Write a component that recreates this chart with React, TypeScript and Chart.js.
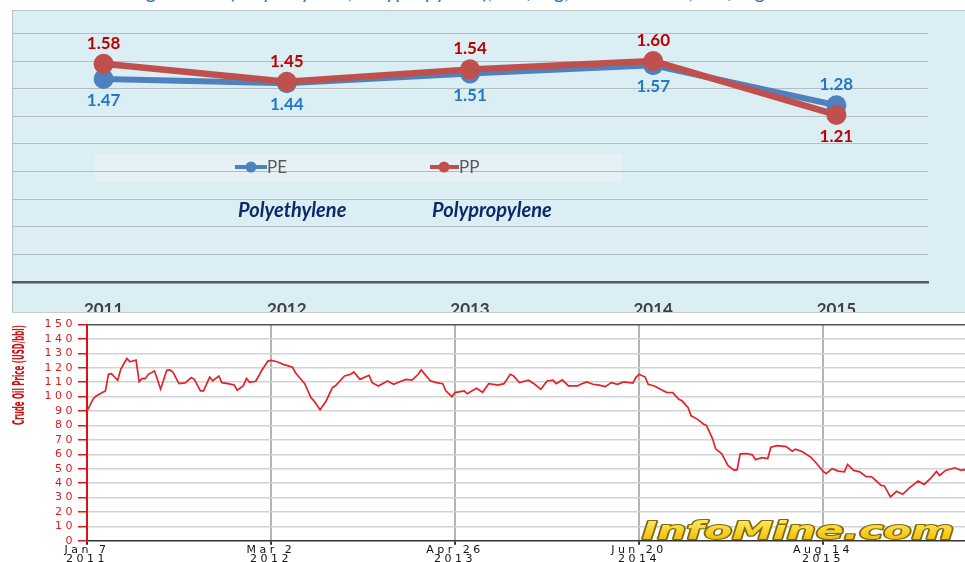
import React, { useEffect, useRef } from "react";
import { Chart, registerables } from "chart.js";

Chart.register(...registerables);

// ---------- Top chart: PE / PP prices ----------
const years = ["2011", "2012", "2013", "2014", "2015"];
const pePrices = [1.47, 1.44, 1.51, 1.57, 1.28];
const ppPrices = [1.58, 1.45, 1.54, 1.6, 1.21];
const resinGridValues = [0, 0.2, 0.4, 0.6, 0.8, 1.0, 1.2, 1.4, 1.6, 1.8];
const seriesNames = ["PE", "PP"];
const resinCaptions = ["Polyethylene", "Polypropylene"];
const topTitle = "Average Prices (Polyethylene, Polypropylene), US$/kg, 2011 – 2015, US$/kg";

// ---------- Bottom chart: crude oil (weekly, weeks since Jan 7 2011) ----------
const crudeWeeks = [
  0, 2, 3, 5, 6, 7, 8, 10, 11, 13,
  14, 16, 17, 18, 19, 20, 22, 23, 24, 25,
  26, 27, 28, 30, 32, 34, 35, 37, 38, 40,
  41, 43, 44, 46, 48, 49, 51, 52, 53, 55,
  56, 57, 59, 60, 62, 64, 67, 68, 69, 71,
  73, 74, 76, 78, 80, 81, 84, 86, 87, 89,
  92, 93, 95, 98, 100, 102, 104, 106, 108, 109,
  110, 112, 114, 116, 117, 119, 120, 123, 124, 127,
  129, 131, 134, 136, 138, 139, 141, 144, 146, 148,
  150, 152, 153, 155, 157, 160, 161, 163, 165, 167,
  169, 171, 173, 175, 178, 179, 180, 182, 183, 185,
  187, 189, 191, 193, 194, 196, 197, 199, 201, 202,
  204, 205, 207, 209, 211, 212, 213, 215, 217, 218,
  220, 222, 223, 225, 228, 230, 231, 233, 236, 238,
  240, 241, 243, 245, 247, 248, 250, 252, 254, 256,
  259, 260, 262, 264, 266, 268, 271, 273, 275, 277,
  278, 280, 283, 285, 286, 289,
];
const crudePrices = [
  90, 98.4, 100.5, 102.8, 104, 115.5, 116, 111.4, 119, 126.5,
  124.2, 125.4, 110.4, 112.7, 112.5, 115.5, 117.8, 111.7, 105.2, 111.7,
  118.3, 118.5, 117, 109, 109.5, 113.2, 112, 104, 104, 113.6,
  111, 114.3, 109.7, 109, 108.1, 104.5, 107.6, 112.7, 110, 110.7,
  114.3, 118.3, 124.7, 125.1, 124.2, 122.4, 120.5, 116.6, 114, 109,
  99.4, 97.1, 90.9, 97, 106.3, 107.5, 114.3, 115.5, 117.1, 112,
  114.8, 109.7, 107.4, 110.9, 108.6, 110.3, 112, 111.4, 115.5, 118.5,
  116, 110.9, 109.7, 109, 104, 100, 102.8, 104, 102, 105.8,
  103, 109, 108, 109, 115.5, 114.5, 109.7, 111.4, 108.6, 105.1,
  110.9, 111.4, 109, 111.6, 107.4, 107.4, 108.6, 110.2, 108.6, 108,
  106.9, 109.7, 108.6, 110.2, 109.4, 113.2, 115.5, 113.6, 108.6, 107.4,
  105.1, 103, 102.8, 98.2, 97.1, 92.5, 86.7, 84.4, 81, 80,
  70.7, 63.8, 60.3, 52.2, 48.8, 49.3, 60.3, 60.5, 59.6, 56.2,
  57.6, 57, 64.9, 66, 65.3, 62.1, 63.6, 62.1, 58, 53.4,
  48.3, 46.5, 50, 48.3, 47.8, 52.9, 48.8, 47.8, 44.6, 44.2,
  38.4, 38, 30.4, 34.3, 32.2, 36.3, 41.4, 39.1, 43, 48.1,
  45.3, 48.8, 50.6, 48.8, 49.3, 49,
];
const crudeTickWeeks = [0, 60, 120, 180, 240];
const crudeTickDates = ["Jan 7", "Mar 2", "Apr 26", "Jun 20", "Aug 14"];
const crudeTickYears = ["2011", "2012", "2013", "2014", "2015"];
const crudeAxisTitle = "Crude Oil Price (USD/bbl)";
const watermarkText = "InfoMine.com";

const PE_COLOR = "#4f81bd";
const PP_COLOR = "#c0504d";
const PE_LABEL = "#1f78c8";
const PP_LABEL = "#c00000";

const resinOverlay = {
  id: "resinOverlay",
  beforeDraw(chart: any) {
    const ctx = chart.ctx;
    ctx.save();
    ctx.fillStyle = "#e5f1f5";
    ctx.fillRect(83, 144, 527, 27);
    ctx.restore();
  },
  afterDatasetsDraw(chart: any) {
    const ctx = chart.ctx;
    const m0 = chart.getDatasetMeta(0).data;
    const m1 = chart.getDatasetMeta(1).data;
    ctx.save();
    ctx.font = "bold 17px Lato, 'Open Sans', sans-serif";
    ctx.textAlign = "center";
    ctx.textBaseline = "alphabetic";
    years.forEach((_, i) => {
      const pe = m0[i];
      const pp = m1[i];
      const peHigher = pePrices[i] > ppPrices[i];
      const topY = Math.min(pe.y, pp.y) - 15;
      const botY = Math.max(pe.y, pp.y) + 27;
      ctx.fillStyle = PP_LABEL;
      ctx.fillText(ppPrices[i].toFixed(2), pp.x, peHigher ? botY : topY);
      ctx.fillStyle = PE_LABEL;
      ctx.fillText(pePrices[i].toFixed(2), pe.x, peHigher ? topY : botY);
    });

    // legend
    const items = [
      { name: seriesNames[0], color: PE_COLOR, x0: 223, x1: 255, cx: 239 },
      { name: seriesNames[1], color: PP_COLOR, x0: 418, x1: 447, cx: 432 },
    ];
    const ly = 157;
    items.forEach((it) => {
      ctx.strokeStyle = it.color;
      ctx.lineWidth = 4;
      ctx.beginPath();
      ctx.moveTo(it.x0, ly);
      ctx.lineTo(it.x1, ly);
      ctx.stroke();
      ctx.fillStyle = it.color;
      ctx.beginPath();
      ctx.arc(it.cx, ly, 5.5, 0, Math.PI * 2);
      ctx.fill();
      ctx.fillStyle = "#595959";
      ctx.font = "17px Lato, 'Open Sans', sans-serif";
      ctx.textAlign = "left";
      ctx.textBaseline = "middle";
      ctx.fillText(it.name, it.x1, ly + 1);
    });

    // captions
    ctx.fillStyle = "#0c2a6a";
    ctx.font = "italic bold 20px Lato, 'Open Sans', sans-serif";
    ctx.textAlign = "left";
    ctx.textBaseline = "alphabetic";
    ctx.fillText(resinCaptions[0], 226, 206.5);
    ctx.fillText(resinCaptions[1], 420, 206.5);
    ctx.restore();
  },
};

const crudeOverlay = {
  id: "crudeOverlay",
  beforeDraw(chart: any) {
    chart.ctx.letterSpacing = "3.5px";
  },
  afterDraw(chart: any) {
    const ctx = chart.ctx;
    ctx.letterSpacing = "0px";
    // y-axis title
    ctx.save();
    ctx.translate(20, 59);
    ctx.rotate(-Math.PI / 2);
    ctx.font = "bold 16px 'Liberation Sans Narrow', 'DejaVu Sans Condensed', 'Liberation Sans', sans-serif";
    const w = ctx.measureText(crudeAxisTitle).width;
    ctx.scale(100 / w, 1);
    ctx.fillStyle = "#cc1010";
    ctx.textAlign = "center";
    ctx.textBaseline = "middle";
    ctx.fillText(crudeAxisTitle, 0, 0);
    ctx.restore();

    // watermark
    ctx.save();
    ctx.font = "italic bold 24px 'DejaVu Sans', sans-serif";
    const ww = ctx.measureText(watermarkText).width;
    ctx.translate(642, 222.5);
    ctx.scale(312 / ww, 1);
    ctx.textAlign = "left";
    ctx.textBaseline = "alphabetic";
    ctx.lineJoin = "round";
    ctx.strokeStyle = "#7d6a10";
    ctx.lineWidth = 2.2;
    ctx.strokeText(watermarkText, 0, 0);
    const g = ctx.createLinearGradient(0, -18, 0, 0);
    g.addColorStop(0, "#ffe85a");
    g.addColorStop(1, "#f2c20c");
    ctx.fillStyle = g;
    ctx.fillText(watermarkText, 0, 0);
    ctx.restore();
  },
};

export default function App() {
  const topRef = useRef<HTMLCanvasElement | null>(null);
  const crudeRef = useRef<HTMLCanvasElement | null>(null);

  useEffect(() => {
    const top = new Chart(topRef.current as HTMLCanvasElement, {
      type: "line",
      data: {
        labels: years,
        datasets: [
          {
            label: seriesNames[0],
            data: pePrices,
            borderColor: PE_COLOR,
            backgroundColor: PE_COLOR,
            borderWidth: 6,
            pointRadius: 10,
            pointBorderWidth: 0,
            pointBackgroundColor: PE_COLOR,
            order: 2,
          },
          {
            label: seriesNames[1],
            data: ppPrices,
            borderColor: PP_COLOR,
            backgroundColor: PP_COLOR,
            borderWidth: 6.5,
            pointRadius: 10,
            pointBorderWidth: 0,
            pointBackgroundColor: PP_COLOR,
            order: 1,
          },
        ],
      },
      options: {
        responsive: false,
        animation: false,
        layout: { autoPadding: false, padding: { left: 0, right: 37, top: 0, bottom: 0 } },
        plugins: { legend: { display: false }, tooltip: { enabled: false } },
        scales: {
          x: {
            offset: true,
            grid: { color: "rgba(0,0,0,0)", drawTicks: false },
            border: { display: true, color: "#595959", width: 2.5 },
            ticks: {
              color: "#404040",
              font: { family: "Lato, 'Open Sans', sans-serif", size: 17, weight: "bold" },
              padding: 17,
            },
            afterFit: (s: any) => {
              s.height = 30;
            },
          },
          y: {
            min: 0,
            max: 1.97,
            afterBuildTicks: (s: any) => {
              s.ticks = resinGridValues.map((v) => ({ value: v }));
            },
            ticks: { display: false },
            grid: {
              color: (c: any) => (c.tick && c.tick.value === 0 ? "rgba(0,0,0,0)" : "#b3bec2"),
              lineWidth: 1,
              drawTicks: false,
            },
            border: { display: false },
            afterFit: (s: any) => {
              s.width = 0;
            },
          },
        },
      } as any,
      plugins: [resinOverlay],
    });

    const crude = new Chart(crudeRef.current as HTMLCanvasElement, {
      type: "line",
      data: {
        datasets: [
          {
            label: "Crude",
            data: crudeWeeks.map((wk, i) => ({ x: wk, y: crudePrices[i] })),
            borderColor: "#e0242a",
            borderWidth: 1.7,
            pointRadius: 0,
            tension: 0,
          },
        ],
      },
      options: {
        responsive: false,
        animation: false,
        layout: { autoPadding: false, padding: { left: 0, right: 3.7, top: 7.3, bottom: 0 } },
        plugins: { legend: { display: false }, tooltip: { enabled: false } },
        scales: {
          x: {
            type: "linear",
            min: 0,
            max: 290,
            afterBuildTicks: (s: any) => {
              s.ticks = crudeTickWeeks.map((v) => ({ value: v }));
            },
            ticks: {
              autoSkip: false,
              maxRotation: 0,
              callback: (_v: any, i: number) => [crudeTickDates[i], crudeTickYears[i]],
              color: "#111",
              font: { family: "'DejaVu Sans', sans-serif", size: 11, lineHeight: 0.9 },
              padding: 0,
            },
            grid: { color: "#b4b4b4", lineWidth: 2, tickColor: "#333", tickLength: 4 },
            border: { color: "#333", width: 1.5 },
            afterFit: (s: any) => {
              s.height = 35.3;
            },
          },
          y: {
            min: 0,
            max: 150,
            ticks: {
              stepSize: 10,
              autoSkip: false,
              color: "#d41d1d",
              font: { family: "'DejaVu Sans', sans-serif", size: 11 },
              padding: 2,
            },
            grid: {
              color: (c: any) =>
                c.tick && c.tick.value === 150 ? "#555" : c.tick && c.tick.value === 0 ? "rgba(0,0,0,0)" : "#d2d2d2",
              lineWidth: 1.5,
              tickColor: "#d41d1d",
              tickLength: 9,
            },
            border: { color: "#e01010", width: 2 },
            afterFit: (s: any) => {
              s.width = 87;
            },
          },
        },
      } as any,
      plugins: [crudeOverlay],
    });

    return () => {
      top.destroy();
      crude.destroy();
    };
  }, []);

  return (
    <div
      style={{
        position: "absolute",
        left: 0,
        top: 0,
        width: 965,
        height: 562,
        overflow: "hidden",
        background: "#fff",
      }}
    >
      <div
        style={{
          position: "absolute",
          left: 95,
          top: -19,
          font: "20px Lato, 'Open Sans', sans-serif",
          color: "#2e74b5",
          whiteSpace: "nowrap",
          lineHeight: "20px",
        }}
      >
        {topTitle}
      </div>
      <div
        style={{
          position: "absolute",
          left: 12,
          top: 10,
          width: 970,
          height: 303,
          boxSizing: "border-box",
          background: "#daeef3",
          borderTop: "1px solid #b9c4c8",
          borderLeft: "1px solid #b9c4c8",
          borderBottom: "1px solid #c4cdd0",
        }}
      />
      <canvas
        ref={topRef}
        width={953}
        height={302}
        style={{ position: "absolute", left: 12, top: 10, width: 953, height: 302, display: "block" }}
      />
      <canvas
        ref={crudeRef}
        width={980}
        height={260}
        style={{ position: "absolute", left: 0, top: 316, width: 980, height: 260, display: "block" }}
      />
    </div>
  );
}
